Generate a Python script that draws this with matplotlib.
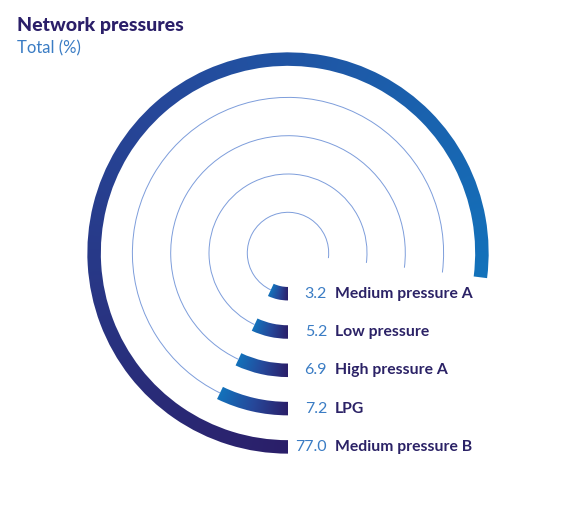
import numpy as np
import matplotlib
matplotlib.use("Agg")
import matplotlib.pyplot as plt
from matplotlib.patches import Wedge, Arc
from matplotlib.colors import LinearSegmentedColormap

categories = ["Medium pressure A", "Low pressure", "High pressure A", "LPG", "Medium pressure B"]
values = [3.2, 5.2, 6.9, 7.2, 77.0]

plt.rcParams['font.family'] = ['Lato', 'DejaVu Sans']

navy = "#2b1f69"
blue = "#1372bb"
cmap = LinearSegmentedColormap.from_list("bar", [navy, "#26489a", blue])

fig = plt.figure(figsize=(5.75, 5.08), dpi=100)
ax = fig.add_axes([0, 0, 1, 1])
ax.set_xlim(0, 575)
ax.set_ylim(0, 508)
ax.set_aspect('equal')
ax.axis('off')

cx, cy = 288, 255
r0, step, width = 40.7, 38.3, 13.5
min_sweep = 25  # short bars are drawn with a minimum sweep (degrees)
vmax = max(values)

# angle of every pixel, measured clockwise from the bottom
xx, yy = np.meshgrid(np.arange(0, 575, 0.5), np.arange(0, 508, 0.5))
ang = np.degrees(np.arctan2(yy - cy, xx - cx))
cw = np.mod(-90 - ang, 360)

for i, (cat, v) in enumerate(zip(categories, values)):
    r = r0 + step * i
    span = max(3.6 * v, min_sweep)
    if v < vmax:
        ax.add_patch(Arc((cx, cy), 2 * r, 2 * r, theta1=-90 - 3.6 * vmax,
                         theta2=-90 - span, lw=0.7, color="#7d9ddb"))
    wedge = Wedge((cx, cy), r + width / 2, -90 - span, -90, width=width,
                  facecolor='none', edgecolor='none')
    ax.add_patch(wedge)
    frac = np.clip(cw / span, 0, 1)
    im = ax.imshow(frac, cmap=cmap, vmin=0, vmax=1, origin='lower',
                   extent=(0, 575, 0, 508), interpolation='bilinear')
    im.set_clip_path(wedge)
    y = cy - r
    ax.text(327, y, f"{v:.1f}", ha='right', va='center', fontsize=11.5, color="#3a7cc4")
    ax.text(335, y, cat, ha='left', va='center', fontsize=11.3, color="#2b2266",
            fontweight='bold')

ax.set_xlim(0, 575)
ax.set_ylim(0, 508)

ax.text(17, 508 - 26, "Network pressures", ha='left', va='center', fontsize=14,
        fontweight='black', color="#2b1f69")
ax.text(17, 508 - 48, "Total (%)", ha='left', va='center', fontsize=12, color="#3a7cc4")

plt.savefig("out.png", dpi=100)
